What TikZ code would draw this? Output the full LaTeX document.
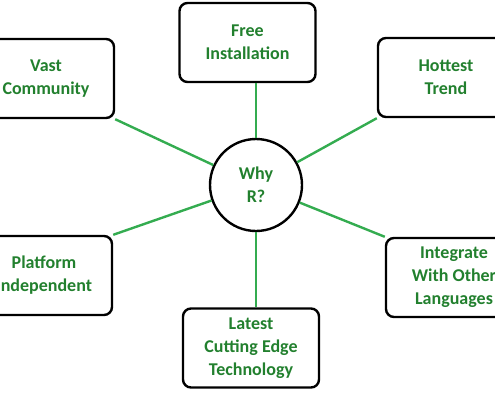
\documentclass[tikz,border=0pt]{standalone}
\usepackage{fontspec}
\setmainfont{Carlito}
\definecolor{txtgreen}{RGB}{34,128,46}
\definecolor{linkgreen}{RGB}{52,172,80}

\begin{document}
\begin{tikzpicture}[x=1pt, y=1pt,
  reason/.style={draw, line width=2.4pt, rounded corners=8pt, minimum width=136pt, minimum height=79pt, align=center, text=txtgreen, font=\fontsize{18}{23}\selectfont\bfseries},
  hub/.style={draw, circle, line width=2.4pt, minimum size=92pt, align=center, text=txtgreen, font=\fontsize{18}{23}\selectfont\bfseries},
  link/.style={draw=linkgreen, line width=2.4pt}]
\useasboundingbox (0,0) rectangle (495,-400);
\node[hub] (why) at (256,-185) {Why\\R?};
\node[reason] (free) at (247.5,-42.5) {Free\\Installation};
\node[reason] (vast) at (46,-78.5) {Vast\\Community};
\node[reason] (hot) at (446,-77.5) {Hottest\\Trend};
\node[reason] (plat) at (44,-275.5) {Platform\\Independent};
\node[reason] (latest) at (251,-348) {Latest\\Cutting Edge\\Technology};
\node[reason] (integ) at (454,-277.5) {Integrate\\With Other\\Languages};
\draw[link] (why.north |- free.south) -- (why.north);
\draw[link] (why.south |- latest.north) -- (why.south);
\draw[link] (vast.south east) -- (why);
\draw[link] (hot.south west) -- (why);
\draw[link] (plat.north east) -- (why);
\draw[link] (integ.north west) -- (why);
\end{tikzpicture}
\end{document}
